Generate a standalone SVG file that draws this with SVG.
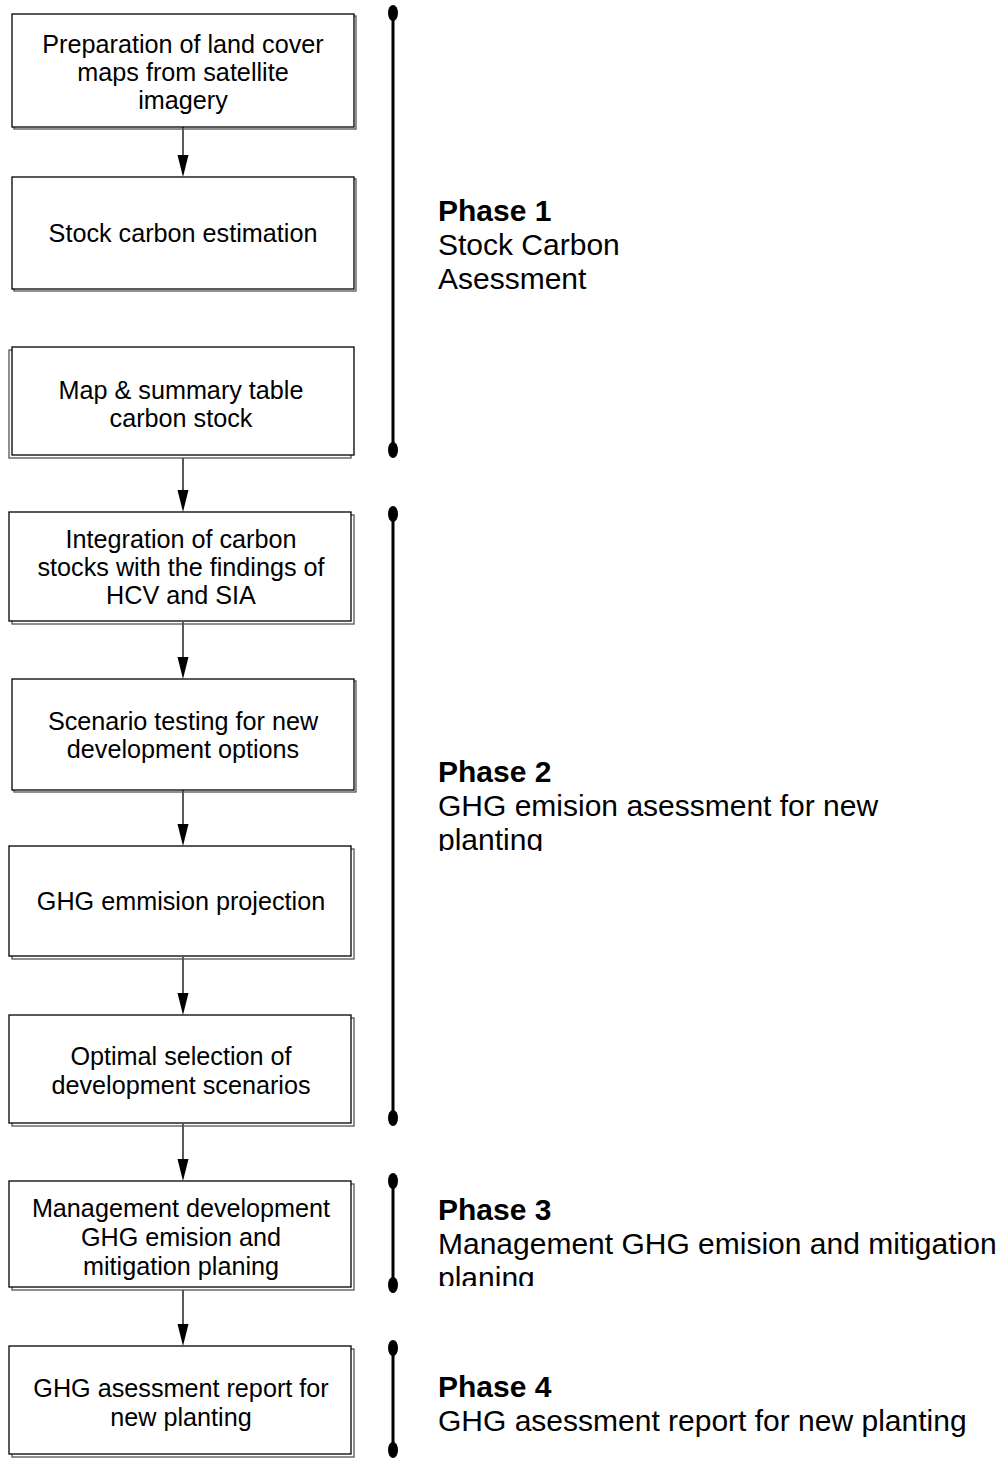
<svg xmlns="http://www.w3.org/2000/svg" width="1003" height="1458" viewBox="0 0 1003 1458">
<style>
.bx{fill:#fff;stroke:#000;stroke-width:1.3}
.sh{fill:none;stroke:#555;stroke-width:1.3}
.t{font-family:"Liberation Sans",Arial,sans-serif;font-size:25.2px;fill:#000;text-anchor:middle}
.p{font-family:"Liberation Sans",Arial,sans-serif;font-size:30px;fill:#000}
.pb{font-weight:bold}
.cn{stroke:#000;stroke-width:1.3;fill:none}
.bar{stroke:#000;stroke-width:3;fill:none}
</style>
<defs>
<clipPath id="c2"><rect x="430" y="740" width="573" height="111"/></clipPath>
<clipPath id="c3"><rect x="430" y="1180" width="573" height="106"/></clipPath>
</defs>
<rect width="1003" height="1458" fill="#fff"/>

<g id="connectors">
<line class="cn" x1="183" y1="127" x2="183" y2="155"/><path d="M177.5,155 L188.5,155 L183,177 Z"/>
<line class="cn" x1="183" y1="458" x2="183" y2="490"/><path d="M177.5,490 L188.5,490 L183,512 Z"/>
<line class="cn" x1="183" y1="622" x2="183" y2="657"/><path d="M177.5,657 L188.5,657 L183,679 Z"/>
<line class="cn" x1="183" y1="790" x2="183" y2="824"/><path d="M177.5,824 L188.5,824 L183,846 Z"/>
<line class="cn" x1="183" y1="957" x2="183" y2="993"/><path d="M177.5,993 L188.5,993 L183,1015 Z"/>
<line class="cn" x1="183" y1="1124" x2="183" y2="1159"/><path d="M177.5,1159 L188.5,1159 L183,1181 Z"/>
<line class="cn" x1="183" y1="1290" x2="183" y2="1324"/><path d="M177.5,1324 L188.5,1324 L183,1346 Z"/>
</g>

<g id="n1"><rect class="sh" x="14" y="16" width="342" height="113"/><rect class="bx" x="12" y="14" width="342" height="113"/>
<text class="t" x="183" y="53">Preparation of land cover</text><text class="t" x="183" y="81">maps from satellite</text><text class="t" x="183" y="109">imagery</text></g>

<g id="n2"><rect class="sh" x="14" y="179" width="342" height="112"/><rect class="bx" x="12" y="177" width="342" height="112"/>
<text class="t" x="183" y="242">Stock carbon estimation</text></g>

<g id="n3"><rect class="sh" x="9" y="350" width="342" height="108"/><rect class="bx" x="12" y="347" width="342" height="108"/>
<text class="t" x="181" y="399">Map &amp; summary table</text><text class="t" x="181" y="427">carbon stock</text></g>

<g id="n4"><rect class="sh" x="12" y="515" width="342" height="109"/><rect class="bx" x="9" y="512" width="342" height="109"/>
<text class="t" x="181" y="548">Integration of carbon</text><text class="t" x="181" y="576">stocks with the findings of</text><text class="t" x="181" y="604">HCV and SIA</text></g>

<g id="n5"><rect class="sh" x="14" y="681" width="342" height="111"/><rect class="bx" x="12" y="679" width="342" height="111"/>
<text class="t" x="183" y="730">Scenario testing for new</text><text class="t" x="183" y="758">development options</text></g>

<g id="n6"><rect class="sh" x="12" y="849" width="342" height="110"/><rect class="bx" x="9" y="846" width="342" height="110"/>
<text class="t" x="181" y="910">GHG emmision projection</text></g>

<g id="n7"><rect class="sh" x="12" y="1018" width="342" height="108"/><rect class="bx" x="9" y="1015" width="342" height="108"/>
<text class="t" x="181" y="1065">Optimal selection of</text><text class="t" x="181" y="1094">development scenarios</text></g>

<g id="n8"><rect class="sh" x="12" y="1184" width="342" height="106"/><rect class="bx" x="9" y="1181" width="342" height="106"/>
<text class="t" x="181" y="1217">Management development</text><text class="t" x="181" y="1246">GHG emision and</text><text class="t" x="181" y="1275">mitigation planing</text></g>

<g id="n9"><rect class="sh" x="12" y="1349" width="342" height="108"/><rect class="bx" x="9" y="1346" width="342" height="108"/>
<text class="t" x="181" y="1397">GHG asessment report for</text><text class="t" x="181" y="1426">new planting</text></g>

<g id="phase1">
<line class="bar" x1="393" y1="12" x2="393" y2="450"/>
<ellipse cx="393" cy="13" rx="5" ry="8"/><ellipse cx="393" cy="450" rx="5" ry="8"/>
<text class="p pb" x="438" y="221">Phase 1</text><text class="p" x="438" y="255">Stock Carbon</text><text class="p" x="438" y="289">Asessment</text>
</g>

<g id="phase2">
<line class="bar" x1="393" y1="514" x2="393" y2="1118"/>
<ellipse cx="393" cy="514" rx="5" ry="8"/><ellipse cx="393" cy="1118" rx="5" ry="8"/>
<g clip-path="url(#c2)"><text class="p pb" x="438" y="782">Phase 2</text><text class="p" x="438" y="816">GHG emision asessment for new</text><text class="p" x="438" y="850">planting</text></g>
</g>

<g id="phase3">
<line class="bar" x1="393" y1="1181" x2="393" y2="1285"/>
<ellipse cx="393" cy="1181" rx="5" ry="8"/><ellipse cx="393" cy="1285" rx="5" ry="8"/>
<g clip-path="url(#c3)"><text class="p pb" x="438" y="1220">Phase 3</text><text class="p" x="438" y="1254">Management GHG emision and mitigation</text><text class="p" x="438" y="1288">planing</text></g>
</g>

<g id="phase4">
<line class="bar" x1="393" y1="1348" x2="393" y2="1450"/>
<ellipse cx="393" cy="1348" rx="5" ry="8"/><ellipse cx="393" cy="1450" rx="5" ry="8"/>
<text class="p pb" x="438" y="1397">Phase 4</text><text class="p" x="438" y="1431">GHG asessment report for new planting</text>
</g>
</svg>
